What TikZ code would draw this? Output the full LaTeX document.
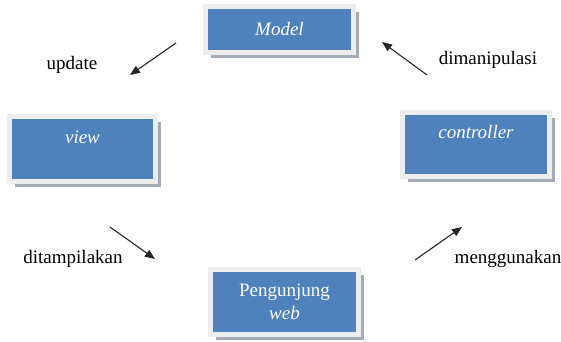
\documentclass[tikz,border=0pt]{standalone}
\usepackage{fontspec}
\setmainfont{Liberation Serif}
\usetikzlibrary{arrows.meta,shadows}
\definecolor{boxblue}{HTML}{4F81BD}
\definecolor{framegray}{HTML}{EDEDED}
\definecolor{shadowgray}{HTML}{A3ABB7}
\tikzset{
  mvcbox/.style={rectangle, fill=boxblue, draw=framegray, line width=5pt,
    text=white, align=center, inner sep=0pt,
    font=\fontsize{19}{23}\selectfont,
    drop shadow={shadow xshift=5pt, shadow yshift=-5pt, fill=shadowgray, opacity=1}},
  lbl/.style={text=black, inner sep=0pt, font=\fontsize{19}{22}\selectfont},
  arr/.style={-{Triangle[length=10pt,width=8pt]}, line width=1.1pt, black!85}
}
\begin{document}
\begin{tikzpicture}[x=1pt,y=-1pt]
\path[use as bounding box, fill=white] (0,0) rectangle (561,341);

\node[mvcbox, minimum width=148pt, minimum height=46pt] (model) at (279.5,29.5) {\textit{Model}};
\node[mvcbox, minimum width=146pt, minimum height=65pt, text depth=24pt] (view) at (82.5,149) {\textit{view}};
\node[mvcbox, minimum width=147pt, minimum height=64pt, text depth=26pt] (controller) at (476,144.5) {\textit{controller}};
\node[mvcbox, minimum width=148pt, minimum height=65pt] (visitor) at (284.5,302) {Pengunjung\\ \textit{web}};

\node[lbl] (lupdate) at (72,65) {update};
\node[lbl] (lmanip) at (488,60) {dimanipulasi};
\node[lbl] (ltampil) at (73,259) {ditampilakan};
\node[lbl] (lguna) at (508,259) {menggunakan};

\coordinate (a1s) at (176,43);
\coordinate (a1e) at (130,75);
\coordinate (a2s) at (427,75);
\coordinate (a2e) at (382,42);
\coordinate (a3s) at (110,227);
\coordinate (a3e) at (155,259);
\coordinate (a4s) at (415,260);
\coordinate (a4e) at (462,227);

\draw[arr] (a1s) -- (a1e);
\draw[arr] (a2s) -- (a2e);
\draw[arr] (a3s) -- (a3e);
\draw[arr] (a4s) -- (a4e);
\end{tikzpicture}
\end{document}
